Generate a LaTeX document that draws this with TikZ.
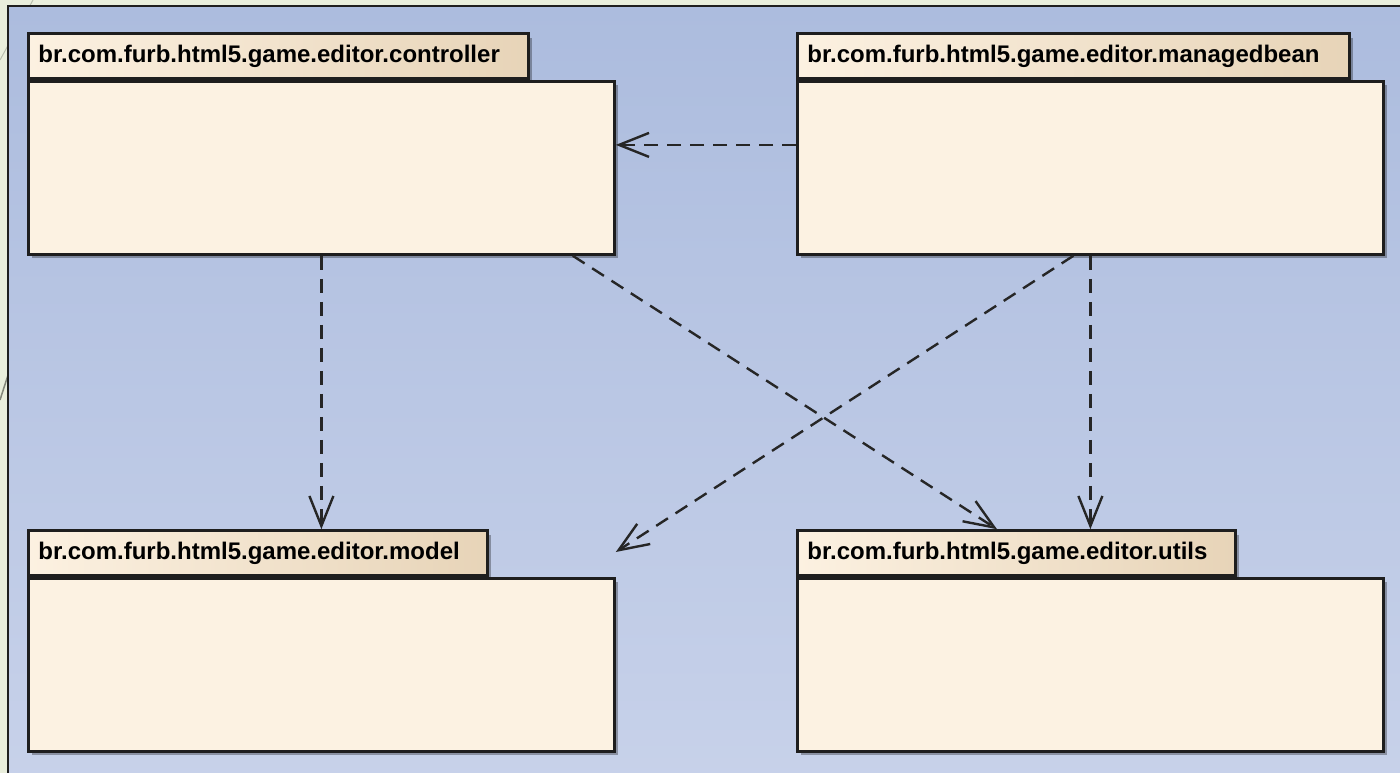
\documentclass[tikz,border=0pt]{standalone}
\usepackage{fontspec}
\setmainfont{Liberation Sans}
\usetikzlibrary{positioning,arrows.meta,shadows}
\definecolor{slidebg}{HTML}{E9EEDC}
\definecolor{slideline}{HTML}{B9BFAE}
\definecolor{frametop}{HTML}{ACBCDE}
\definecolor{framebot}{HTML}{C8D2EA}
\definecolor{pkgfill}{HTML}{FCF2E2}
\definecolor{tableft}{HTML}{FCF1E1}
\definecolor{tabright}{HTML}{E7D4B8}
\definecolor{pkgline}{HTML}{1E1E1E}
\tikzset{
  pkgbody/.style={rectangle,draw=pkgline,fill=pkgfill,line width=2.8pt,
    minimum width=586pt,minimum height=173pt,inner sep=0pt,
    drop shadow={shadow xshift=4pt,shadow yshift=-4pt,opacity=0.3,fill=black}},
  pkgtab/.style={rectangle,draw=pkgline,left color=tableft,right color=tabright,line width=2.8pt,
    minimum height=45pt,anchor=south west,inner xsep=10pt,inner ysep=0pt,align=left,
    font=\fontsize{24}{28}\selectfont\bfseries,
    drop shadow={shadow xshift=4pt,shadow yshift=-4pt,opacity=0.3,fill=black}},
  dep/.style={line width=2.4pt,draw=black!85,dash pattern=on 14pt off 9pt,
    -{Straight Barb[length=30pt,width=24pt,line width=2.4pt]}},
}

\begin{document}
\begin{tikzpicture}[x=1pt,y=-1pt]
  \useasboundingbox (0,0) rectangle (1400,773);
  \clip (0,0) rectangle (1400,773);
  % slide and frame
  \fill[slidebg] (0,0) rectangle (1400,773);
  \draw[slideline,line width=1pt] (33,0) -- (0,60);
  \draw[slideline!70!black,line width=1.5pt] (9,372) -- (0,400);
  \draw[line width=2.8pt,draw=pkgline,top color=frametop,bottom color=framebot] (8,6) rectangle (1420,800);

  % packages
  \node[pkgtab,text width=480pt] (ctrltab) at (27,80) {br.com.furb.html5.game.editor.controller};
  \node[pkgbody,below right=0pt of ctrltab.south west] (ctrl) {};
  \node[pkgtab,text width=532pt] (mbtab) at (796,80) {br.com.furb.html5.game.editor.managedbean};
  \node[pkgbody,below right=0pt of mbtab.south west] (mb) {};
  \node[pkgtab,text width=439pt] (modeltab) at (27,577) {br.com.furb.html5.game.editor.model};
  \node[pkgbody,below right=0pt of modeltab.south west] (model) {};
  \node[pkgtab,text width=418pt] (utilstab) at (796,577) {br.com.furb.html5.game.editor.utils};
  \node[pkgbody,below right=0pt of utilstab.south west] (utils) {};

  % dependencies
  \draw[dep] ([yshift=23pt]mb.west) -- ([yshift=23pt]ctrl.east);
  \draw[dep] (ctrl.south) -- (ctrl.south |- modeltab.north);
  \draw[dep] ([xshift=-43pt]ctrl.south east) -- ([xshift=201pt]utilstab.north west);
  \draw[dep] ([xshift=-17pt]mb.south) -- ([yshift=25pt]model.north east);
  \draw[dep] (mb.south) -- (mb.south |- utilstab.north);
\end{tikzpicture}
\end{document}
